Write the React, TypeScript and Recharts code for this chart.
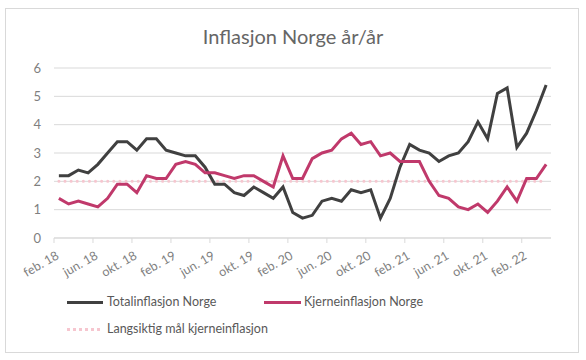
import { LineChart, Line, XAxis, YAxis, CartesianGrid, ReferenceLine } from "recharts";

// Monthly, feb. 2018 - apr. 2022 (12-month change, %)
const MONTHS = [
  "feb. 18", "mar. 18", "apr. 18", "mai. 18", "jun. 18", "jul. 18", "aug. 18", "sep. 18", "okt. 18", "nov. 18", "des. 18",
  "jan. 19", "feb. 19", "mar. 19", "apr. 19", "mai. 19", "jun. 19", "jul. 19", "aug. 19", "sep. 19", "okt. 19", "nov. 19", "des. 19",
  "jan. 20", "feb. 20", "mar. 20", "apr. 20", "mai. 20", "jun. 20", "jul. 20", "aug. 20", "sep. 20", "okt. 20", "nov. 20", "des. 20",
  "jan. 21", "feb. 21", "mar. 21", "apr. 21", "mai. 21", "jun. 21", "jul. 21", "aug. 21", "sep. 21", "okt. 21", "nov. 21", "des. 21",
  "jan. 22", "feb. 22", "mar. 22", "apr. 22",
];

const TOTAL = [
  2.2, 2.2, 2.4, 2.3, 2.6, 3.0, 3.4, 3.4, 3.1, 3.5, 3.5,
  3.1, 3.0, 2.9, 2.9, 2.5, 1.9, 1.9, 1.6, 1.5, 1.8, 1.6, 1.4,
  1.8, 0.9, 0.7, 0.8, 1.3, 1.4, 1.3, 1.7, 1.6, 1.7, 0.7, 1.4,
  2.5, 3.3, 3.1, 3.0, 2.7, 2.9, 3.0, 3.4, 4.1, 3.5, 5.1, 5.3,
  3.2, 3.7, 4.5, 5.4,
];

const CORE = [
  1.4, 1.2, 1.3, 1.2, 1.1, 1.4, 1.9, 1.9, 1.6, 2.2, 2.1,
  2.1, 2.6, 2.7, 2.6, 2.3, 2.3, 2.2, 2.1, 2.2, 2.2, 2.0, 1.8,
  2.9, 2.1, 2.1, 2.8, 3.0, 3.1, 3.5, 3.7, 3.3, 3.4, 2.9, 3.0,
  2.7, 2.7, 2.7, 2.0, 1.5, 1.4, 1.1, 1.0, 1.2, 0.9, 1.3, 1.8,
  1.3, 2.1, 2.1, 2.6,
];

const TARGET = 2;
const X_TICKS = [0, 4, 8, 12, 16, 20, 24, 28, 32, 36, 40, 44, 48];
const Y_TICKS = [0, 1, 2, 3, 4, 5, 6];

const data = MONTHS.map((m, i) => ({ i, month: m, total: TOTAL[i], core: CORE[i] }));

const FONT = "Lato, 'Open Sans', sans-serif";
const BLACK = "#404040";
const RED = "#C0396B";
const PINK = "#F6C6CF";
const PLOT_W = 497;

const XTick = (props: any) => {
  const { x, y, payload } = props;
  const step = PLOT_W / MONTHS.length;
  const ax = x + 1;
  const ay = y + 20;
  return (
    <g>
      <line x1={x - step / 2} x2={x - step / 2} y1={y} y2={y + 5} stroke="#D9D9D9" />
      <text
        x={ax}
        y={ay}
        textAnchor="end"
        transform={`rotate(-30 ${ax} ${ay})`}
        fill="#7F7F7F"
        fontSize={12.5}
        fontFamily={FONT}
      >
        {MONTHS[payload.value]}
      </text>
    </g>
  );
};

export default function App() {
  return (
    <div style={{ position: "absolute", left: 0, top: 0, width: 586, height: 360, background: "#fff" }}>
      <div
        style={{
          position: "absolute",
          left: 5,
          top: 8,
          width: 572,
          height: 343,
          border: "1px solid #D9D9D9",
        }}
      />
      <div
        style={{
          position: "absolute",
          left: 0,
          top: 24,
          width: 586,
          textAlign: "center",
          fontFamily: FONT,
          fontSize: 20,
          color: "#666666",
        }}
      >
        Inflasjon Norge år/år
      </div>
      <LineChart
        width={586}
        height={360}
        data={data}
        margin={{ top: 68, right: 35, left: 0, bottom: 82 }}
        style={{ position: "absolute", left: 0, top: 0 }}
      >
        <CartesianGrid vertical={false} stroke="#D9D9D9" />
        <XAxis
          dataKey="i"
          type="number"
          domain={[-0.5, MONTHS.length - 0.5]}
          ticks={X_TICKS}
          height={40}
          tickLine={false}
          tickSize={0}
          tickMargin={0}
          axisLine={{ stroke: "#D9D9D9" }}
          tick={<XTick />}
          interval={0}
        />
        <YAxis
          domain={[0, 6]}
          ticks={Y_TICKS}
          width={54}
          axisLine={false}
          tickLine={false}
          tickSize={0}
          tickMargin={13}
          tick={{ fill: "#7F7F7F", fontSize: 13, fontFamily: FONT }}
        />
        <ReferenceLine
          segment={[
            { x: 0, y: TARGET },
            { x: MONTHS.length - 1, y: TARGET },
          ]}
          stroke={PINK}
          strokeWidth={3}
          strokeLinecap="round"
          strokeDasharray="0.1 6"
        />
        <Line
          type="linear"
          dataKey="total"
          stroke={BLACK}
          strokeWidth={3}
          dot={false}
          isAnimationActive={false}
        />
        <Line
          type="linear"
          dataKey="core"
          stroke={RED}
          strokeWidth={3}
          dot={false}
          isAnimationActive={false}
        />
      </LineChart>
      <div style={{ position: "absolute", left: 0, top: 0, fontFamily: FONT, fontSize: 12.5, color: "#595959" }}>
        <div style={{ position: "absolute", left: 67, top: 301, width: 36, height: 3, background: BLACK }} />
        <div style={{ position: "absolute", left: 107, top: 294, whiteSpace: "nowrap" }}>Totalinflasjon Norge</div>
        <div style={{ position: "absolute", left: 264, top: 301, width: 37, height: 3, background: RED }} />
        <div style={{ position: "absolute", left: 304, top: 294, whiteSpace: "nowrap" }}>Kjerneinflasjon Norge</div>
        <div
          style={{
            position: "absolute",
            left: 67,
            top: 328,
            width: 36,
            height: 3,
            background: `repeating-linear-gradient(90deg, ${PINK} 0 3px, transparent 3px 6px)`,
          }}
        />
        <div style={{ position: "absolute", left: 107, top: 321, whiteSpace: "nowrap" }}>Langsiktig mål kjerneinflasjon</div>
      </div>
    </div>
  );
}
